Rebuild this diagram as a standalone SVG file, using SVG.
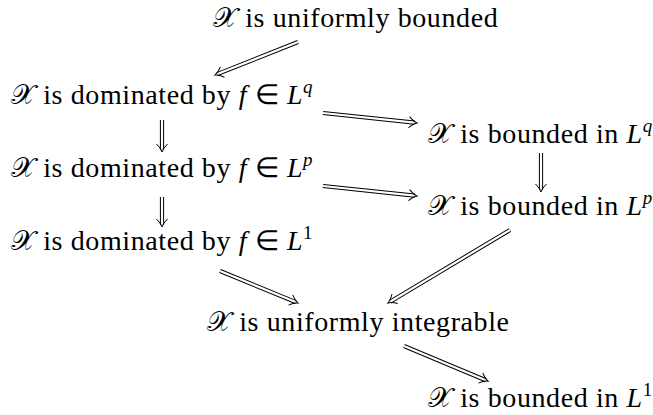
<svg xmlns="http://www.w3.org/2000/svg" width="653" height="415" viewBox="0 0 653 415">
<style>
.o{fill:none;stroke:#000;stroke-width:4.2}
.i{fill:none;stroke:#fff;stroke-width:2.2}
</style>
<defs>
<marker id="tip" markerUnits="userSpaceOnUse" viewBox="-9 -8 14 16" markerWidth="14" markerHeight="16" refX="0" refY="0" orient="auto">
<path d="M-5.5,-5.5 Q-1.5,-1.2 2.5,0 Q-1.5,1.2 -5.5,5.5" fill="none" stroke="#000" stroke-width="1"/>
</marker>
</defs>
<rect width="653" height="415" fill="#fff"/>
<g id="n1"><text x="213" y="27" style="font-family:'Liberation Serif',serif !important;font-size:28px;letter-spacing:0.6px">𝒳 is uniformly bounded</text></g>
<g id="n2"><text x="11" y="104" style="font-family:'Liberation Serif',serif !important;font-size:28px;letter-spacing:0.6px">𝒳 is dominated by <tspan font-style="italic">f</tspan> ∈ <tspan font-style="italic">L</tspan><tspan font-style="italic" font-size="19" dy="-11">q</tspan></text></g>
<g id="n3"><text x="428" y="143" style="font-family:'Liberation Serif',serif !important;font-size:28px;letter-spacing:0.6px">𝒳 is bounded in <tspan font-style="italic">L</tspan><tspan font-style="italic" font-size="19" dy="-11">q</tspan></text></g>
<g id="n4"><text x="11" y="177" style="font-family:'Liberation Serif',serif !important;font-size:28px;letter-spacing:0.6px">𝒳 is dominated by <tspan font-style="italic">f</tspan> ∈ <tspan font-style="italic">L</tspan><tspan font-style="italic" font-size="19" dy="-11">p</tspan></text></g>
<g id="n5"><text x="428" y="215" style="font-family:'Liberation Serif',serif !important;font-size:28px;letter-spacing:0.6px">𝒳 is bounded in <tspan font-style="italic">L</tspan><tspan font-style="italic" font-size="19" dy="-11">p</tspan></text></g>
<g id="n6"><text x="11" y="250" style="font-family:'Liberation Serif',serif !important;font-size:28px;letter-spacing:0.6px">𝒳 is dominated by <tspan font-style="italic">f</tspan> ∈ <tspan font-style="italic">L</tspan><tspan font-size="19" dy="-11">1</tspan></text></g>
<g id="n7"><text x="207" y="331" style="font-family:'Liberation Serif',serif !important;font-size:28px;letter-spacing:0.6px">𝒳 is uniformly integrable</text></g>
<g id="n8"><text x="428" y="407" style="font-family:'Liberation Serif',serif !important;font-size:28px;letter-spacing:0.6px">𝒳 is bounded in <tspan font-style="italic">L</tspan><tspan font-size="19" dy="-11">1</tspan></text></g>
<g id="connectors">
<path class="o" d="M298,42 L217.3,74.1"/><path class="i" d="M298,42 L217.3,74.1" marker-end="url(#tip)"/>
<path class="o" d="M323,113 L414.5,122.7"/><path class="i" d="M323,113 L414.5,122.7" marker-end="url(#tip)"/>
<path class="o" d="M162,120 L162,149.5"/><path class="i" d="M162,120 L162,149.5" marker-end="url(#tip)"/>
<path class="o" d="M541,153 L541,189.5"/><path class="i" d="M541,153 L541,189.5" marker-end="url(#tip)"/>
<path class="o" d="M323,186 L414.5,195.7"/><path class="i" d="M323,186 L414.5,195.7" marker-end="url(#tip)"/>
<path class="o" d="M162,197 L162,224.5"/><path class="i" d="M162,197 L162,224.5" marker-end="url(#tip)"/>
<path class="o" d="M220,271 L295.7,302.1"/><path class="i" d="M220,271 L295.7,302.1" marker-end="url(#tip)"/>
<path class="o" d="M510,230 L390.1,301.7"/><path class="i" d="M510,230 L390.1,301.7" marker-end="url(#tip)"/>
<path class="o" d="M404,346 L485.7,380.2"/><path class="i" d="M404,346 L485.7,380.2" marker-end="url(#tip)"/>
</g>
</svg>
